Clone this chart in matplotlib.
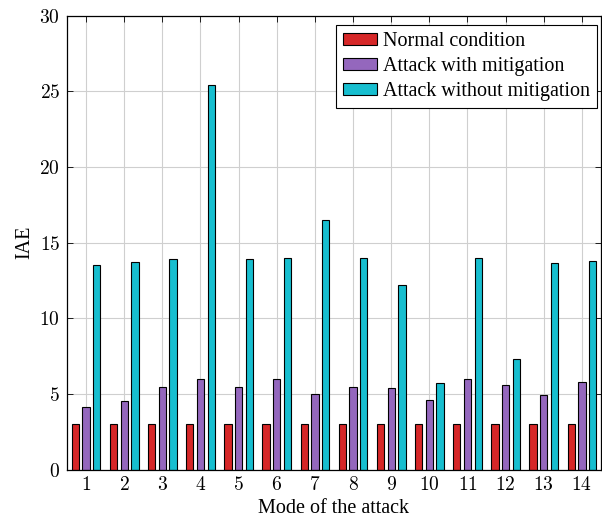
import matplotlib
matplotlib.use('Agg')
import matplotlib.pyplot as plt
import numpy as np

plt.rcParams['font.family'] = ['Liberation Serif', 'DejaVu Serif']
plt.rcParams['mathtext.fontset'] = 'cm'

modes = list(range(1, 15))
normal_condition = [3, 3, 3, 3, 3, 3, 3, 3, 3, 3, 3, 3, 3, 3]
with_mitigation = [4.15, 4.55, 5.47, 6.0, 5.47, 5.97, 5.0, 5.47, 5.4, 4.6, 5.97, 5.6, 4.9, 5.78]
without_mitigation = [13.5, 13.7, 13.9, 25.43, 13.9, 13.97, 16.5, 13.97, 12.2, 5.7, 13.97, 7.3, 13.65, 13.78]

series = [('Normal condition', normal_condition, '#d62728'),
          ('Attack with mitigation', with_mitigation, '#9467bd'),
          ('Attack without mitigation', without_mitigation, '#17becf')]

BAR_WIDTH = 0.19
OFFSET = 0.28

fig = plt.figure(figsize=(6.02, 5.18), dpi=100)
ax = fig.add_axes([0.1113, 0.0936, 0.887, 0.876])

x = np.array(modes)
for _index, (_label, _values, _color) in enumerate(series):
    ax.bar(x + (_index - 1) * OFFSET, _values, width=BAR_WIDTH, color=_color,
           edgecolor='black', linewidth=0.8, label=_label, zorder=3)

ax.set_xlim(0.5, 14.5)
ax.set_ylim(0, 30)
ax.set_xticks(modes)
ax.set_xticklabels([f"${m}$" for m in modes])
yticks = [0, 5, 10, 15, 20, 25, 30]
ax.set_yticks(yticks)
ax.set_yticklabels([f"${v}$" for v in yticks])
ax.tick_params(direction='in', top=True, right=True, length=4, width=0.6,
               labelsize=14, colors='black')
ax.tick_params(axis='x', pad=5)
ax.tick_params(axis='y', pad=5)
ax.grid(True, color='#cfcfcf', linewidth=0.8, zorder=0)
for _spine in ax.spines.values():
    _spine.set_linewidth(0.9)
    _spine.set_zorder(4)

ax.set_xlabel('Mode of the attack', fontsize=14.5, labelpad=3)
ax.set_ylabel('IAE', fontsize=14.5, labelpad=4)

leg = ax.legend(loc='upper right', bbox_to_anchor=(0.9925, 0.979), fontsize=14.5,
                fancybox=False, framealpha=1, edgecolor='black',
                handlelength=1.7, handleheight=0.55, handletextpad=0.3,
                labelspacing=0.3, borderpad=0.35, borderaxespad=0)
leg.get_frame().set_linewidth(0.8)

fig.savefig('out.png', dpi=100)
